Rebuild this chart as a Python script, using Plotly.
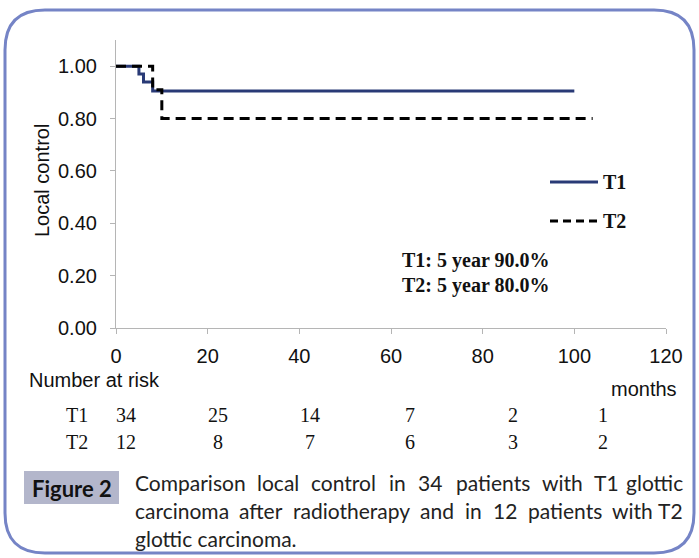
import plotly.graph_objects as go

# ---- data ----
t1_months = [0, 5, 6, 8, 100]
t1_surv = [1.00, 0.97, 0.94, 0.905, 0.905]
t2_months = [0, 8, 10, 104]
t2_surv = [1.00, 0.91, 0.80, 0.80]

risk_times = [0, 20, 40, 60, 80, 100]
risk_t1 = [34, 25, 14, 7, 2, 1]
risk_t2 = [12, 8, 7, 6, 3, 2]

x_ticks = [0, 20, 40, 60, 80, 100, 120]
y_ticks = [0.0, 0.2, 0.4, 0.6, 0.8, 1.0]

caption_lines = [
    "Comparison local control in 34 patients with T1 glottic",
    "carcinoma after radiotherapy and in 12 patients with T2",
    "glottic carcinoma.",
]

# ---- layout helpers (pixel -> paper) ----
W, H = 699, 558
L, R, T, B = 116, 666, 40, 328
def px(x):
    return (x - L) / (R - L)
def py(y):
    return (B - y) / (B - T)

T1_COLOR = "#293a76"
T2_COLOR = "#000000"
SERIF = "Liberation Serif, Times New Roman, serif"
SANS = "Liberation Sans, Arial, sans-serif"
CAP = "Lato, Open Sans, sans-serif"

fig = go.Figure()
fig.add_trace(go.Scatter(x=t1_months, y=t1_surv, mode="lines", line_shape="hv",
                         line=dict(color=T1_COLOR, width=3), name="T1", showlegend=False))
fig.add_trace(go.Scatter(x=t2_months, y=t2_surv, mode="lines", line_shape="hv",
                         line=dict(color=T2_COLOR, width=3, dash="10px,6px"), name="T2", showlegend=False))

shapes = []
annotations = []

# legend (manual)
for name, color, dash, yy in [("T1", T1_COLOR, "solid", 182), ("T2", T2_COLOR, "8px,5px", 221)]:
    shapes.append(dict(type="line", xref="paper", yref="paper", x0=px(550), x1=px(598),
                       y0=py(yy), y1=py(yy), line=dict(color=color, width=3, dash=dash)))
    annotations.append(dict(text="<b>%s</b>" % name, xref="paper", yref="paper", x=px(601), y=py(yy),
                            xanchor="left", yanchor="middle", showarrow=False,
                            font=dict(family=SERIF, size=20, color="#111")))

# 5-year annotation
for txt, yy in [("T1: 5 year 90.0%", 260), ("T2: 5 year 80.0%", 285)]:
    annotations.append(dict(text="<b>%s</b>" % txt, xref="paper", yref="paper", x=px(400), y=py(yy),
                            xanchor="left", yanchor="middle", showarrow=False,
                            font=dict(family=SERIF, size=20, color="#111")))

# y axis title
annotations.append(dict(text="Local control", xref="paper", yref="paper", x=px(42), y=py(181),
                        textangle=-90, showarrow=False, xanchor="center", yanchor="middle",
                        font=dict(family=SANS, size=20, color="#111")))

# Number at risk
annotations.append(dict(text="Number at risk", xref="paper", yref="paper", x=px(27), y=py(380),
                        xanchor="left", yanchor="middle", showarrow=False,
                        font=dict(family=SANS, size=20, color="#111")))
annotations.append(dict(text="months", xref="paper", yref="paper", x=px(679), y=py(389),
                        xanchor="right", yanchor="middle", showarrow=False,
                        font=dict(family=SANS, size=20, color="#111")))

risk_col_px = [126, 218, 310, 410, 513, 603]
for label, counts, yy in [("T1", risk_t1, 415), ("T2", risk_t2, 442)]:
    annotations.append(dict(text=label, xref="paper", yref="paper", x=px(77), y=py(yy),
                            xanchor="center", yanchor="middle", showarrow=False,
                            font=dict(family=SERIF, size=20, color="#111")))
    for cx, c in zip(risk_col_px, counts):
        annotations.append(dict(text=str(c), xref="paper", yref="paper", x=px(cx), y=py(yy),
                                xanchor="center", yanchor="middle", showarrow=False,
                                font=dict(family=SERIF, size=20, color="#111")))

# Figure 2 box
shapes.append(dict(type="rect", xref="paper", yref="paper", x0=px(24), x1=px(119), y0=py(471), y1=py(504),
                   fillcolor="#b3b6cb", line=dict(width=0), layer="below"))
annotations.append(dict(text="<b>Figure 2</b>", xref="paper", yref="paper", x=px(71.5), y=py(488),
                        xanchor="center", yanchor="middle", showarrow=False,
                        font=dict(family=CAP, size=22, color="#111")))

# caption, justified by placing words
CAP_SIZE = 21
lato_w = {"a": .49, "b": .55, "c": .45, "d": .55, "e": .51, "f": .32, "g": .49, "h": .55, "i": .23,
          "j": .23, "k": .49, "l": .23, "m": .83, "n": .55, "o": .55, "p": .55, "q": .55, "r": .36,
          "s": .42, "t": .35, "u": .55, "v": .5, "w": .75, "x": .48, "y": .5, "z": .44,
          "C": .66, "T": .55, ".": .22}
def est_w(word):
    return sum(lato_w.get(ch, .58) for ch in word) * CAP_SIZE

cap_left, cap_right = 133, 685
for i, line in enumerate(caption_lines):
    yy = py(482 + 28 * i)
    words = line.split(" ")
    if i == len(caption_lines) - 1:
        annotations.append(dict(text=line, xref="paper", yref="paper", x=px(cap_left), y=yy,
                                xanchor="left", yanchor="middle", showarrow=False,
                                font=dict(family=CAP, size=CAP_SIZE, color="#222")))
        continue
    widths = [est_w(w) for w in words]
    gap = (cap_right - cap_left - sum(widths)) / (len(words) - 1)
    xcur = cap_left
    for j, w in enumerate(words):
        if j == len(words) - 1:
            annotations.append(dict(text=w, xref="paper", yref="paper", x=px(cap_right), y=yy,
                                    xanchor="right", yanchor="middle", showarrow=False,
                                    font=dict(family=CAP, size=CAP_SIZE, color="#222")))
        else:
            annotations.append(dict(text=w, xref="paper", yref="paper", x=px(xcur), y=yy,
                                    xanchor="left", yanchor="middle", showarrow=False,
                                    font=dict(family=CAP, size=CAP_SIZE, color="#222")))
        xcur += widths[j] + gap

# rounded border
x0b, x1b, y0b, y1b, r = 5, 694, 10, 553, 40
def P(x, y):
    return "%f,%f" % (px(x), py(y))
path = ("M " + P(x0b + r, y0b) + " L " + P(x1b - r, y0b) + " Q " + P(x1b, y0b) + " " + P(x1b, y0b + r) +
        " L " + P(x1b, y1b - r) + " Q " + P(x1b, y1b) + " " + P(x1b - r, y1b) +
        " L " + P(x0b + r, y1b) + " Q " + P(x0b, y1b) + " " + P(x0b, y1b - r) +
        " L " + P(x0b, y0b + r) + " Q " + P(x0b, y0b) + " " + P(x0b + r, y0b) + " Z")
shapes.append(dict(type="path", xref="paper", yref="paper", path=path,
                   line=dict(color="#7584c6", width=3)))

fig.update_layout(
    width=W, height=H,
    margin=dict(l=L, r=W - R, t=T, b=H - B),
    paper_bgcolor="white", plot_bgcolor="white",
    shapes=shapes, annotations=annotations,
    showlegend=False,
    xaxis=dict(range=[0, 120], tickvals=x_ticks, ticktext=[str(v) for v in x_ticks],
               showgrid=False, zeroline=False, showline=True, linecolor="#b5b5b5", linewidth=1.2,
               ticks="outside", ticklen=5, tickcolor="#b5b5b5", ticklabelstandoff=5,
               tickfont=dict(family=SANS, size=20, color="#111"), fixedrange=True),
    yaxis=dict(range=[0, 1.1], tickvals=y_ticks, ticktext=["%.2f" % v for v in y_ticks],
               showgrid=False, zeroline=False, showline=True, linecolor="#b5b5b5", linewidth=1.2,
               ticks="outside", ticklen=5, tickcolor="#b5b5b5", ticklabelstandoff=9,
               tickfont=dict(family=SANS, size=20, color="#111"), fixedrange=True),
)

fig.write_html("out.html", config={"displayModeBar": False},
               post_script="document.body.style.margin='0';document.body.style.overflow='hidden';")
